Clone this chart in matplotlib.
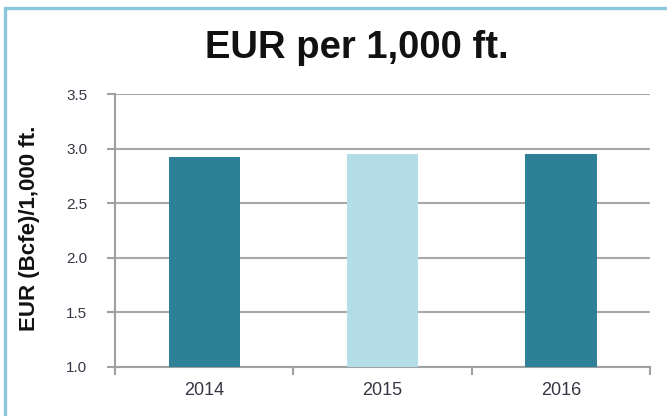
import matplotlib.pyplot as plt
from matplotlib.patches import Rectangle

# dados
anos = ["2014", "2015", "2016"]
eur = [2.92, 2.95, 2.95]
cores = ["#2e8097", "#b4dde7", "#2e8097"]
yticks = [1.0, 1.5, 2.0, 2.5, 3.0, 3.5]

plt.rcParams['font.family'] = ['Liberation Sans', 'DejaVu Sans']

fig = plt.figure(figsize=(6.67, 4.16), dpi=100)
ax = fig.add_axes([115 / 667, 49 / 416, 535 / 667, 273 / 416])

# moldura azul clara
fig.patches.append(Rectangle((5 / 667, -0.1), 1.2, (416 - 8) / 416 + 0.1,
                             transform=fig.transFigure, fill=False,
                             edgecolor="#8cc6dc", linewidth=2.4))

x = range(len(anos))
ax.bar(x, [v - 1.0 for v in eur], bottom=1.0, width=0.4, color=cores, zorder=3)

ax.set_xlim(-0.5, 2.5)
ax.set_ylim(1.0, 3.5)
ax.set_yticks(yticks)
ax.set_yticklabels([f"{t:.1f}" for t in yticks])
ax.set_xticks(list(x))
ax.set_xticklabels(anos)
ax.set_xticks([-0.5, 0.5, 1.5, 2.5], minor=True)

ax.grid(axis="y", color="#a8a8a8", linewidth=1.5, zorder=0)
for lado in ["top", "right"]:
    ax.spines[lado].set_visible(False)
for lado in ["left", "bottom"]:
    ax.spines[lado].set_color("#a0a0a0")
    ax.spines[lado].set_linewidth(1.5)

ax.tick_params(axis="y", length=6, width=1.5, color="#a0a0a0", pad=14,
               labelsize=11, labelcolor="#3a3444")
ax.tick_params(axis="x", which="major", length=0, pad=11,
               labelsize=13, labelcolor="#3a3444")
ax.tick_params(axis="x", which="minor", length=6, width=1.5, color="#a0a0a0")

fig.text(357 / 667, 1 - 48 / 416, "EUR per 1,000 ft.", ha="center", va="center",
         fontsize=27.5, fontweight="bold", color="#111111")
fig.text(30 / 667, 1 - 228 / 416, "EUR (Bcfe)/1,000 ft.", ha="center", va="center",
         rotation=90, fontsize=16, fontweight="bold", color="#111111")

fig.savefig("out.png", dpi=100)
